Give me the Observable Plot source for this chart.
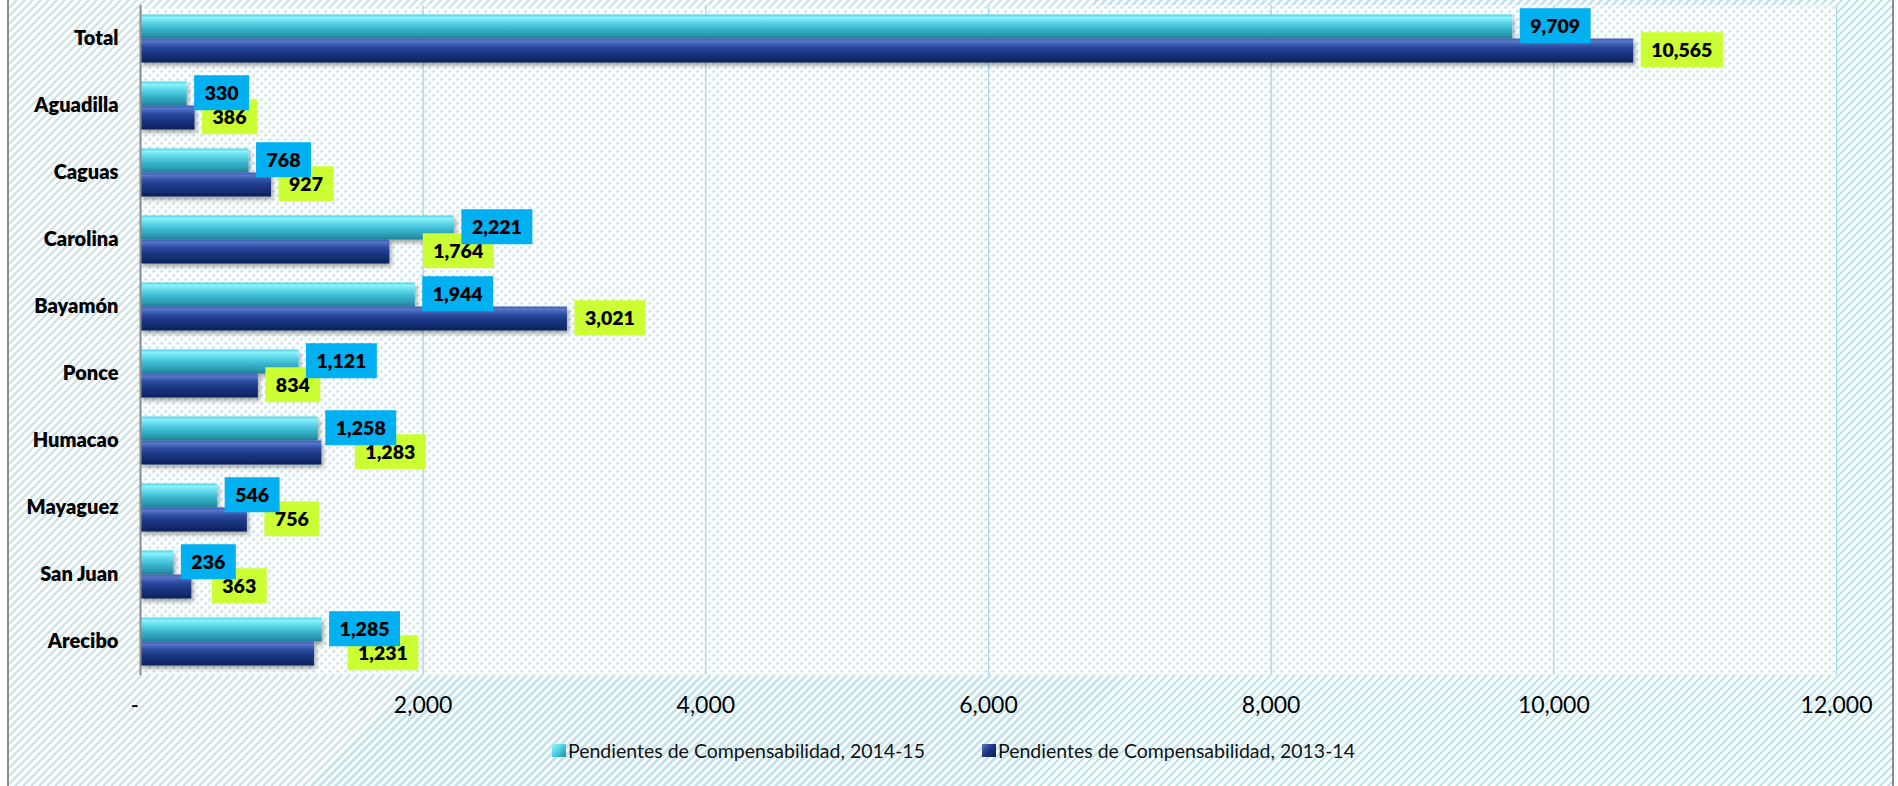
<!DOCTYPE html>
<html><head><meta charset="utf-8">
<script src="https://cdn.jsdelivr.net/npm/d3@7"></script>
<script src="https://cdn.jsdelivr.net/npm/@observablehq/plot@0.6"></script>
<style>
html,body{margin:0;padding:0;background:#fff;width:1898px;height:786px;overflow:hidden;position:relative;font-family:Lato,"Open Sans",sans-serif;}
#frame{position:absolute;left:7px;top:-4px;width:1883px;height:800px;border:2px solid #8c8c8c;
 background-color:#fff;
 background-image:repeating-linear-gradient(135deg,#c3e4ec 0px,#c3e4ec 2.4px,#ffffff 2.4px,#ffffff 5.66px);}
#chart{position:absolute;left:0;top:0;}
#legend{position:absolute;left:552px;top:739px;display:flex;align-items:center;font-size:19.5px;color:#111;white-space:nowrap;}
.item{display:flex;align-items:center;margin-right:57px;}
.sw{width:14px;height:13px;margin-right:2px;}
</style></head><body>
<div id="frame"></div><div id="chart"></div><div id="legend"></div>
<script>
// ---- data ----
const categories = ["Total","Aguadilla","Caguas","Carolina","Bayamón","Ponce","Humacao","Mayaguez","San Juan","Arecibo"];
const pend2014_15 = [9709,330,768,2221,1944,1121,1258,546,236,1285];
const pend2013_14 = [10565,386,927,1764,3021,834,1283,756,363,1231];
const xTicks = [0,2000,4000,6000,8000,10000,12000];
const seriesNames = ["Pendientes de Compensabilidad, 2014-15","Pendientes de Compensabilidad, 2013-14"];

// ---- layout (label offsets in px, not data) ----
const labelNudgeB = [0,0,0,26,0,0,26,10,13,26];

const rows = categories.map((c,i)=>({category:c, a:pend2014_15[i], b:pend2013_14[i]}));
const fmt = d3.format(",");

const svg = Plot.plot({
  width:1898, height:730, marginLeft:140, marginRight:62, marginTop:5, marginBottom:55,
  style:{background:"transparent", overflow:"visible", fontFamily:"Lato, 'Open Sans', sans-serif"},
  x:{domain:[0,12000], axis:null},
  y:{domain:categories, padding:0, round:false, axis:null},
  marks:[
    Plot.frame({fill:"url(#plotPat)", stroke:"none"}),
    Plot.ruleX(xTicks.slice(1), {stroke:"#a9d7e5", strokeWidth:1.3}),
    Plot.barX(rows,{x:"a", y:"category", fill:"url(#gCyan)", insetTop:9.5, insetBottom:33.5, ariaDescription:"bars-a"}),
    Plot.barX(rows,{x:"b", y:"category", fill:"url(#gNavy)", insetTop:33.5, insetBottom:9.5, ariaDescription:"bars-b"}),
    Plot.ruleX([0],{stroke:"#8c8c8c", strokeWidth:2}),
    Plot.text(categories,{y:d=>d, frameAnchor:"left", textAnchor:"end", dx:-22, fontWeight:800, fontSize:20, fill:"#000"}),
    Plot.text(xTicks,{x:d=>d, frameAnchor:"bottom", dy:37, text:d=>d===0?"-\u2002":fmt(d), fontSize:23, fill:"#000"}),
    Plot.text(rows,{x:"b", y:"category", text:d=>fmt(d.b), textAnchor:"start", dx:17.5, dy:12, fontWeight:800, fontSize:19.5, fill:"#000", ariaDescription:"labels-b"}),
    Plot.text(rows,{x:"a", y:"category", text:d=>fmt(d.a), textAnchor:"start", dx:17.5, dy:-12, fontWeight:800, fontSize:19.5, fill:"#000", ariaDescription:"labels-a"})
  ]
});

const ns = "http://www.w3.org/2000/svg";
const defs = document.createElementNS(ns,"defs");
defs.innerHTML = `
<linearGradient id="gCyan" x1="0" y1="0" x2="0" y2="1">
 <stop offset="0" stop-color="#4fd3e6"/>
 <stop offset="0.12" stop-color="#8cf1fb"/>
 <stop offset="0.32" stop-color="#5fd9ea"/>
 <stop offset="0.6" stop-color="#38b5cc"/>
 <stop offset="0.85" stop-color="#2a98ae"/>
 <stop offset="1" stop-color="#1f7f95"/>
</linearGradient>
<linearGradient id="gNavy" x1="0" y1="0" x2="0" y2="1">
 <stop offset="0" stop-color="#3a5cb2"/>
 <stop offset="0.12" stop-color="#5877c8"/>
 <stop offset="0.32" stop-color="#2e4ea4"/>
 <stop offset="0.6" stop-color="#1a3580"/>
 <stop offset="0.85" stop-color="#122a6c"/>
 <stop offset="1" stop-color="#0c1f58"/>
</linearGradient>
<filter id="shadow" x="-5%" y="-40%" width="115%" height="190%">
 <feDropShadow dx="2" dy="3" stdDeviation="2" flood-color="#000" flood-opacity="0.35"/>
</filter>
<pattern id="plotPat" width="8" height="8" patternUnits="userSpaceOnUse">
 <rect width="8" height="8" fill="#fff"/>
 <path d="M0,8L8,0M-4,4L4,-4M4,12L12,4" stroke="#a9d6e4" stroke-width="1.5" stroke-dasharray="3 2.66" fill="none"/>
</pattern>`;
svg.insertBefore(defs, svg.firstChild);
document.getElementById("chart").appendChild(svg);

["bars-a","bars-b"].forEach(d=>{
  const g = svg.querySelector(`[aria-description="${d}"]`);
  if (g) g.setAttribute("filter","url(#shadow)");
});

function boxes(desc, color, nudges){
  const g = svg.querySelector(`[aria-description="${desc}"]`);
  if (!g) return;
  Array.from(g.querySelectorAll("text")).forEach((t,i)=>{
    const n = nudges ? nudges[i] : 0;
    const tr = (t.getAttribute("transform")||"") + ` translate(${n},0)`;
    t.setAttribute("transform", tr);
    const bb = t.getBBox();
    const r = document.createElementNS(ns,"rect");
    const cy = bb.y + bb.height/2;
    r.setAttribute("x", bb.x - 10.5);
    r.setAttribute("width", bb.width + 21);
    r.setAttribute("y", cy - 17.5);
    r.setAttribute("height", 35);
    r.setAttribute("fill", color);
    r.setAttribute("transform", tr);
    g.insertBefore(r, t);
  });
}
boxes("labels-b", "#ccff33", labelNudgeB);
boxes("labels-a", "#00b0f0", null);

// legend
const swatchBg = ["linear-gradient(135deg,#9af4fc 0%,#4fd3e6 45%,#238ea5 100%)","linear-gradient(135deg,#5877c8 0%,#1a3580 50%,#0c1f58 100%)"];
const legend = document.getElementById("legend");
seriesNames.forEach((s,i)=>{
  const it = document.createElement("div"); it.className="item";
  const sw = document.createElement("div"); sw.className="sw"; sw.style.background = swatchBg[i];
  const tx = document.createElement("span"); tx.textContent = s;
  it.appendChild(sw); it.appendChild(tx); legend.appendChild(it);
});
</script>
</body></html>
